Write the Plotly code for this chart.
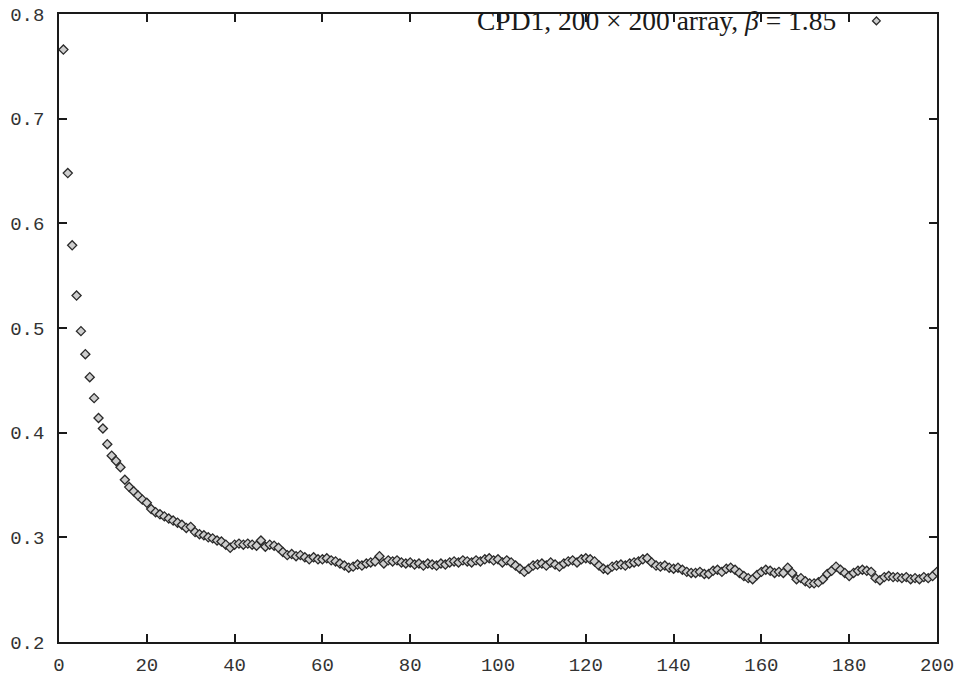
import plotly.graph_objects as go

steps = list(range(1, 201))
values = [
    0.766, 0.648, 0.579, 0.531, 0.497, 0.475, 0.453, 0.433, 0.414, 0.404,
    0.389, 0.378, 0.373, 0.367, 0.355, 0.348, 0.344, 0.340, 0.336, 0.333,
    0.327, 0.324, 0.322, 0.320, 0.318, 0.316, 0.314, 0.312, 0.309, 0.310,
    0.305, 0.303, 0.302, 0.300, 0.299, 0.297, 0.296, 0.293, 0.290, 0.293,
    0.294, 0.293, 0.294, 0.293, 0.292, 0.297, 0.291, 0.293, 0.292, 0.290,
    0.286, 0.283, 0.284, 0.282, 0.283, 0.281, 0.279, 0.281, 0.279, 0.279,
    0.280, 0.278, 0.277, 0.275, 0.273, 0.271, 0.272, 0.274, 0.273, 0.275,
    0.276, 0.277, 0.282, 0.275, 0.278, 0.277, 0.278, 0.276, 0.275, 0.276,
    0.274, 0.275, 0.273, 0.275, 0.274, 0.273, 0.275, 0.274, 0.276, 0.277,
    0.276, 0.278, 0.277, 0.276, 0.278, 0.277, 0.279, 0.280, 0.278, 0.279,
    0.276, 0.278, 0.276, 0.273, 0.270, 0.267, 0.270, 0.273, 0.274, 0.275,
    0.273, 0.276, 0.274, 0.272, 0.275, 0.277, 0.278, 0.276, 0.279, 0.280,
    0.279, 0.277, 0.273, 0.270, 0.269, 0.272, 0.273, 0.274, 0.273, 0.275,
    0.276, 0.277, 0.279, 0.280, 0.276, 0.273, 0.272, 0.273, 0.271, 0.270,
    0.271, 0.269, 0.267, 0.266, 0.266, 0.267, 0.265, 0.265, 0.268, 0.269,
    0.267, 0.270, 0.271, 0.269, 0.266, 0.263, 0.261, 0.260, 0.264, 0.267,
    0.269, 0.268, 0.266, 0.267, 0.266, 0.271, 0.266, 0.260, 0.261, 0.258,
    0.256, 0.256, 0.257, 0.260, 0.265, 0.268, 0.272, 0.269, 0.266, 0.263,
    0.266, 0.268, 0.269, 0.268, 0.267, 0.261, 0.259, 0.262, 0.263, 0.262,
    0.262, 0.261, 0.262, 0.260, 0.261, 0.260, 0.262, 0.261, 0.263, 0.267,
]
x_ticks = [0, 20, 40, 60, 80, 100, 120, 140, 160, 180, 200]
y_ticks = [0.2, 0.3, 0.4, 0.5, 0.6, 0.7, 0.8]
label = "CPD1, 200 \u00d7 200 array, <i>\u03b2</i> = 1.85"

marker_style = dict(symbol="diamond", size=7, color="#cdcdcd",
                    line=dict(color="#2a2a2a", width=1.3))

fig = go.Figure()
fig.add_trace(go.Scatter(x=steps, y=values, mode="markers",
                         marker=marker_style, showlegend=False))
# legend key symbol (placed to the right of the text, as in the original)
fig.add_trace(go.Scatter(x=[0.931], y=[0.989], mode="markers",
                         marker=dict(marker_style, size=6),
                         xaxis="x2", yaxis="y2", showlegend=False))

axis_common = dict(showline=True, linecolor="#1a1a1a", linewidth=1.5,
                   mirror="ticks", ticks="inside", ticklen=8, tickwidth=1.5,
                   tickcolor="#1a1a1a", showgrid=False, zeroline=False,
                   automargin=False,
                   tickfont=dict(family="Liberation Mono", size=19, color="#333333"))

fig.update_layout(
    width=956, height=676,
    margin=dict(l=59, r=19, t=14, b=34, autoexpand=False),
    paper_bgcolor="white", plot_bgcolor="white",
    xaxis=dict(axis_common, range=[0, 200], tickvals=x_ticks,
               ticklabelstandoff=4),
    yaxis=dict(axis_common, range=[0.2, 0.8], tickvals=y_ticks,
               tickformat=".1f", ticklabelstandoff=9),
    xaxis2=dict(range=[0, 1], overlaying="x", visible=False, automargin=False),
    yaxis2=dict(range=[0, 1], overlaying="y", visible=False, automargin=False),
    annotations=[dict(text=label, xref="paper", yref="paper",
                      x=0.887, y=0.989, xanchor="right", yanchor="middle",
                      showarrow=False,
                      font=dict(family="Liberation Serif", size=27.5, color="#1a1a1a"))],
)

fig.write_html("out.html", config={"displayModeBar": False},
               post_script="document.body.style.margin='0';document.body.style.overflow='hidden';")
